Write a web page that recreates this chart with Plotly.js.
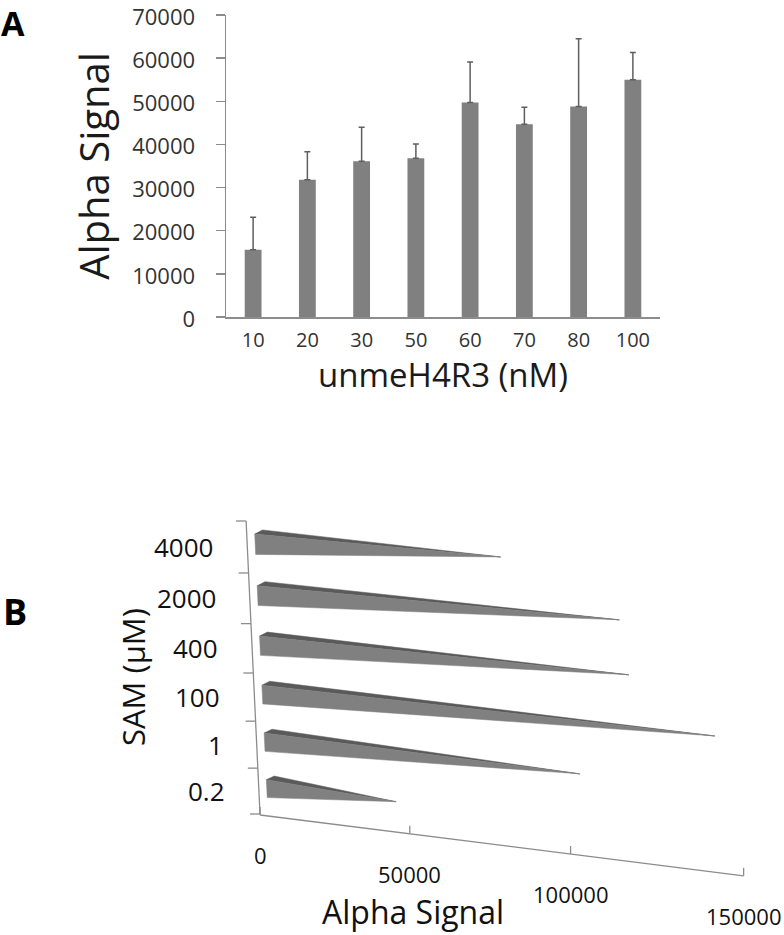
<!DOCTYPE html>
<html><head><meta charset="utf-8">
<script src="https://cdn.plot.ly/plotly-3.0.1.min.js"></script>
<style>html,body{margin:0;padding:0;background:#fff}#chart{width:784px;height:935px}</style>
</head><body><div id="chart"></div>
<script>
// ---------- Panel A data ----------
const concA = ['10', '20', '30', '50', '60', '70', '80', '100'];
const signalA = [15600, 31800, 36100, 36800, 49700, 44700, 48800, 55000];
const errA = [7500, 6500, 7900, 3300, 9400, 3900, 15700, 6300];
const ticksA = [0, 10000, 20000, 30000, 40000, 50000, 60000, 70000];
const tickLabelsA = ['0', '10000', '20000', '30000', '40000', '50000', '60000', '70000'];

// ---------- Panel B data (bottom to top) ----------
const samB = ['0.2', '1', '100', '400', '2000', '4000'];
const signalB = [42000, 100000, 140000, 116000, 114000, 79000];
const ticksB = [0, 50000, 100000, 150000];
const tickLabelsB = ['0', '50000', '100000', '150000'];

const FONT = 'Open Sans, sans-serif';
const AXIS = '#8c8c8c';

// ---------- Panel B: 3-D pyramid projection (pixel-unit hidden axes) ----------
const VP = [-3970, 283];            // vanishing point of the value direction
const PERSP = 0.0342 / 50000;       // perspective foreshortening per value unit
function proj(q, v) {
  const s = 1 / (1 - PERSP * v);
  return [VP[0] + (q[0] - VP[0]) * s, VP[1] + (q[1] - VP[1]) * s];
}
function catPt(u) {                 // point on the category (SAM) axis, u = 0..n
  const y = 814 - 45.3 * u / (1 - 0.01206 * u);
  const x = 260 - 14 * (814 - y) / 295;
  return [x, y];
}
const off = (p, dx, dy) => [p[0] + dx, p[1] + dy];

const traces = [];
traces.push({
  type: 'bar', x: concA, y: signalA, xaxis: 'x', yaxis: 'y',
  marker: {color: '#808080'}, hoverinfo: 'skip',
  error_y: {type: 'data', array: errA, arrayminus: errA.map(() => 0), symmetric: false,
            color: '#5f5f5f', thickness: 1.5, width: 3}
});

samB.forEach((lab, k) => {
  const FB = off(catPt(k + 0.36), 8, 0);
  const FT = off(catPt(k + 0.75), 8, 0);
  const BT = off(catPt(k + 0.83), 16, 0);
  const C = [(FB[0] + BT[0]) / 2, (FB[1] + BT[1]) / 2];
  const A = proj(C, signalB[k]);
  traces.push({type: 'scatter', mode: 'lines', xaxis: 'x2', yaxis: 'y2', hoverinfo: 'skip',
    x: [FT[0], BT[0], A[0], FT[0]], y: [FT[1], BT[1], A[1], FT[1]],
    fill: 'toself', fillcolor: '#5a5a5a', line: {color: '#5a5a5a', width: 0.5}, showlegend: false});
  traces.push({type: 'scatter', mode: 'lines', xaxis: 'x2', yaxis: 'y2', hoverinfo: 'skip',
    x: [FT[0], FB[0], A[0], FT[0]], y: [FT[1], FB[1], A[1], FT[1]],
    fill: 'toself', fillcolor: '#808080', line: {color: '#808080', width: 0.5}, showlegend: false});
});

// category axis line and ticks
(function () {
  const xs = [], ys = [];
  const top = catPt(samB.length), bot = catPt(0);
  xs.push(top[0], bot[0], null); ys.push(top[1], bot[1], null);
  for (let u = 0; u <= samB.length; u++) {
    const p = catPt(u);
    xs.push(p[0] - 10, p[0], null); ys.push(p[1], p[1], null);
  }
  traces.push({type: 'scatter', mode: 'lines', xaxis: 'x2', yaxis: 'y2', hoverinfo: 'skip',
    x: xs, y: ys, line: {color: AXIS, width: 1.3}, showlegend: false});
})();

// value axis line and ticks
const Q0 = [260, 815];
(function () {
  const xs = [], ys = [];
  const a = proj(Q0, ticksB[0]), b = proj(Q0, ticksB[ticksB.length - 1]);
  xs.push(a[0], b[0], null); ys.push(a[1], b[1], null);
  ticksB.forEach(v => {
    const p = proj(Q0, v);
    xs.push(p[0], p[0], null); ys.push(p[1], p[1] - 8, null);
  });
  traces.push({type: 'scatter', mode: 'lines', xaxis: 'x2', yaxis: 'y2', hoverinfo: 'skip',
    x: xs, y: ys, line: {color: AXIS, width: 1.3}, showlegend: false});
})();

const ann = [];
samB.forEach((lab, k) => {
  const p = catPt(k + 0.5);
  ann.push({xref: 'x2', yref: 'y2', x: p[0] - 32, y: p[1], text: lab, showarrow: false,
    xanchor: 'right', yanchor: 'middle', font: {family: FONT, size: 26, color: '#111'}});
});
ticksB.forEach((v, i) => {
  const p = proj(Q0, v);
  ann.push({xref: 'x2', yref: 'y2', x: p[0], y: p[1] + 40, text: tickLabelsB[i], showarrow: false,
    xanchor: 'center', yanchor: 'middle', font: {family: FONT, size: 22, color: '#111'}});
});
ann.push({xref: 'x2', yref: 'y2', x: 133, y: 677, text: 'SAM (μM)', textangle: -90, showarrow: false,
  xanchor: 'center', yanchor: 'middle', font: {family: FONT, size: 31, color: '#111'}});
ann.push({xref: 'x2', yref: 'y2', x: 413, y: 911, text: 'Alpha Signal', showarrow: false,
  xanchor: 'center', yanchor: 'middle', font: {family: FONT, size: 32, color: '#111'}});
ann.push({xref: 'x2', yref: 'y2', x: 13, y: 23, text: '<b>A</b>', showarrow: false,
  xanchor: 'center', yanchor: 'middle', font: {family: FONT, size: 34, color: '#000'}});
ann.push({xref: 'x2', yref: 'y2', x: 15, y: 611, text: '<b>B</b>', showarrow: false,
  xanchor: 'center', yanchor: 'middle', font: {family: FONT, size: 36, color: '#000'}});

const layout = {
  width: 784, height: 935, margin: {l: 0, r: 0, t: 0, b: 0, pad: 0},
  paper_bgcolor: '#ffffff', plot_bgcolor: 'rgba(0,0,0,0)',
  showlegend: false, bargap: 0.69,
  font: {family: FONT, color: '#333'},
  xaxis: {domain: [226 / 784, 660 / 784], type: 'category', anchor: 'y',
    showline: true, linecolor: AXIS, linewidth: 1.5, ticks: '', showgrid: false, zeroline: false,
    tickfont: {family: FONT, size: 20, color: '#333'}, ticklabelstandoff: 4,
    title: {text: 'unmeH4R3 (nM)', font: {family: FONT, size: 33, color: '#1a1a1a'}, standoff: 12},
    fixedrange: true},
  yaxis: {domain: [618 / 935, 920 / 935], range: [0, 70000], anchor: 'x',
    tickmode: 'array', tickvals: ticksA, ticktext: tickLabelsA, ticklabeloverflow: 'allow',
    ticklabelshift: 2,
    showline: true, linecolor: AXIS, linewidth: 1.5, ticks: 'outside', ticklen: 9, tickwidth: 1.5,
    tickcolor: AXIS, showgrid: false, zeroline: false,
    tickfont: {family: FONT, size: 22, color: '#333'}, ticklabelstandoff: 16,
    title: {text: 'Alpha Signal', font: {family: FONT, size: 40, color: '#1a1a1a'}, standoff: 10},
    fixedrange: true},
  xaxis2: {domain: [0, 1], range: [0, 784], visible: false, anchor: 'y2', fixedrange: true},
  yaxis2: {domain: [0, 1], range: [935, 0], visible: false, anchor: 'x2', fixedrange: true},
  annotations: ann
};

Plotly.newPlot('chart', traces, layout, {staticPlot: true, displayModeBar: false});
</script>
</body></html>
